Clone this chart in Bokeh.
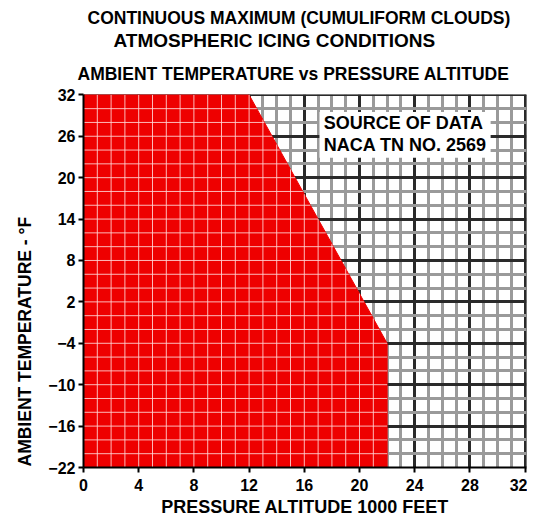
import numpy as np
from bokeh.plotting import figure
from bokeh.models import FixedTicker, Label, Title, BoxAnnotation, Range1d
from bokeh.embed import file_html
from bokeh.resources import INLINE

# ---- data ----
altitude_ticks = [0, 4, 8, 12, 16, 20, 24, 28, 32]          # 1000 ft
altitude_minor = list(range(0, 33, 1))
temperature_ticks = [32, 26, 20, 14, 8, 2, -4, -10, -16, -22]  # deg F
temperature_minor = list(range(-22, 33, 2))
# envelope of continuous maximum icing conditions (altitude, temperature)
boundary_alt = [0, 12, 22, 22, 0]
boundary_temp = [32, 32, -4, -22, -22]

FONT = "Liberation Sans"

p = figure(width=527, height=522, output_backend="svg", toolbar_location=None,
           x_range=Range1d(0, 32.1), y_range=Range1d(-22, 32.05),
           min_border_left=83, min_border_right=1, min_border_top=94,
           min_border_bottom=55)
p.outline_line_color = None
p.background_fill_color = "white"

xt = FixedTicker(ticks=altitude_ticks, minor_ticks=altitude_minor)
yt = FixedTicker(ticks=temperature_ticks, minor_ticks=temperature_minor)
p.xaxis.ticker = xt
p.yaxis.ticker = yt
p.xgrid.ticker = xt
p.ygrid.ticker = yt

for g in (p.xgrid, p.ygrid):
    g.grid_line_color = "#2a2a2a"
    g.grid_line_width = 3
    g.minor_grid_line_color = "#9a9a9a"
    g.minor_grid_line_width = 3

for ax in (p.xaxis, p.yaxis):
    ax.axis_line_color = "black"
    ax.axis_line_width = 2
    ax.major_tick_line_color = "black"
    ax.major_tick_line_width = 2
    ax.major_tick_out = 5
    ax.major_tick_in = 0
    ax.minor_tick_line_color = None
    ax.major_label_text_font = FONT
    ax.major_label_text_font_style = "bold"
    ax.major_label_text_font_size = "16px"
    ax.major_label_text_color = "black"
    ax.major_label_standoff = 3
p.xaxis.major_label_standoff = 6

p.xaxis.axis_label = "PRESSURE ALTITUDE 1000 FEET"
p.xaxis.axis_label_text_font = FONT
p.xaxis.axis_label_text_font_style = "bold"
p.xaxis.axis_label_text_font_size = "18px"
p.xaxis.axis_label_text_color = "black"
p.xaxis.axis_label_standoff = 3

# red icing envelope
p.patch(boundary_alt, boundary_temp, fill_color="#ee0000", line_color="#ee0000",
        line_width=1)

# thin white grid lines over the red area, clipped to the envelope
vx = np.array([a for a in altitude_minor if 0 < a < boundary_alt[2]], dtype=float)
vtop = np.interp(vx, boundary_alt[:3], boundary_temp[:3])
p.segment(x0=vx, y0=np.full_like(vx, boundary_temp[3]), x1=vx, y1=vtop,
          line_color="#ffd8d8", line_width=1, line_alpha=0.85)
hy = np.array([t for t in temperature_minor if boundary_temp[3] < t < boundary_temp[0]], dtype=float)
hright = np.interp(hy, boundary_temp[1:4][::-1], boundary_alt[1:4][::-1])
p.segment(x0=np.zeros_like(hy), y0=hy, x1=hright, y1=hy,
          line_color="#ffd8d8", line_width=1, line_alpha=0.85)

# source note
p.add_layout(BoxAnnotation(left=17.1, right=29.5, top=29.5, bottom=22.9,
                           fill_color="white", fill_alpha=1.0, line_color=None))
p.add_layout(Label(x=17.4, y=27.9, text="SOURCE OF DATA", text_font=FONT,
                   text_font_style="bold", text_font_size="18px",
                   text_baseline="middle", text_color="black"))
p.add_layout(Label(x=17.4, y=24.8, text="NACA TN NO. 2569", text_font=FONT,
                   text_font_style="bold", text_font_size="18px",
                   text_baseline="middle", text_color="black"))

# y axis label (as a side title so it can sit outside the frame)
p.add_layout(Title(text="AMBIENT TEMPERATURE - °F", text_font=FONT,
                   text_font_style="bold", text_font_size="17.5px", align="left",
                   offset=1, standoff=22, text_color="black"), "left")

# titles (first added sits nearest the plot; p.title is outermost)
p.title.text = "CONTINUOUS MAXIMUM (CUMULIFORM CLOUDS)"
p.title.text_font = FONT
p.title.text_font_style = "bold"
p.title.text_font_size = "17.5px"
p.title.text_color = "black"
p.title.align = "left"
p.title.offset = 4
p.title.standoff = 0
p.add_layout(Title(text="AMBIENT TEMPERATURE vs PRESSURE ALTITUDE", text_font=FONT,
                   text_font_style="bold", text_font_size="17.5px", align="left",
                   offset=-6, standoff=22, text_color="black"), "above")
p.add_layout(Title(text="ATMOSPHERIC ICING CONDITIONS", text_font=FONT,
                   text_font_style="bold", text_font_size="19px", align="left",
                   offset=30, standoff=0, text_color="black"), "above")

open("out.html", "w").write(file_html(p, INLINE))
